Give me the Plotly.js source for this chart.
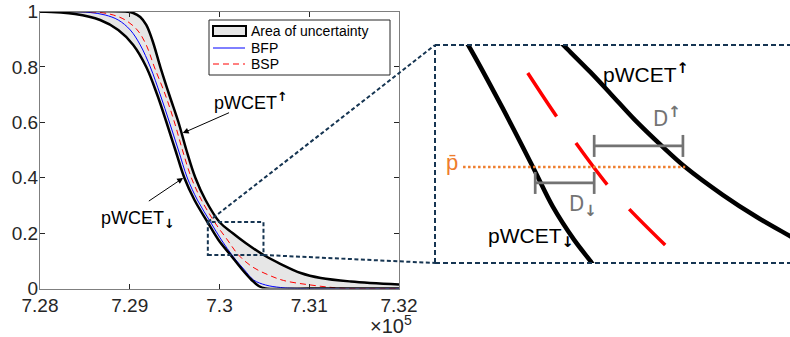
<!DOCTYPE html>
<html><head><meta charset="utf-8">
<script src="https://cdn.plot.ly/plotly-3.0.1.min.js"></script>
<style>html,body{margin:0;padding:0;background:#fff}#chart{width:790px;height:337px}</style>
</head><body><div id="chart"></div>
<script>
// ---------- data (x in units of 10^5) ----------
const xTicks = [7.28, 7.29, 7.30, 7.31, 7.32];
const xTickText = ['7.28', '7.29', '7.3', '7.31', '7.32'];
const yTicks = [0, 0.2, 0.4, 0.6, 0.8, 1];
const yTickText = ['0', '0.2', '0.4', '0.6', '0.8', '1'];

// upper bound pWCET↑
const xUpper = [7.28, 7.2895, 7.29039, 7.29117, 7.29184, 7.29251, 7.29341, 7.29441, 7.29542, 7.29631, 7.29732, 7.29844, 7.30000, 7.30145, 7.30291, 7.30492, 7.30682, 7.30905, 7.31128, 7.31464, 7.32];
const yUpper = [1, 1, 0.9946, 0.9801, 0.9513, 0.8971, 0.7996, 0.6986, 0.6011, 0.5000, 0.3989, 0.3195, 0.2401, 0.2004, 0.1643, 0.1209, 0.0884, 0.0560, 0.0379, 0.0253, 0.0144];
// lower bound pWCET↓
const xLower = [7.28, 7.28391, 7.28670, 7.28872, 7.29039, 7.29184, 7.29307, 7.29408, 7.29508, 7.29609, 7.29721, 7.29866, 7.29989, 7.30123, 7.30257, 7.30358, 7.30436, 7.30514, 7.31, 7.32];
const yLower = [1, 0.9910, 0.9693, 0.9332, 0.8791, 0.7996, 0.6986, 0.6011, 0.5000, 0.3989, 0.3195, 0.2401, 0.1751, 0.1209, 0.0668, 0.0307, 0.0090, 0, 0, 0];
// BFP
const xBFP = [7.28, 7.28335, 7.28559, 7.28726, 7.28872, 7.29006, 7.29117, 7.29229, 7.29341, 7.29441, 7.29542, 7.29642, 7.29754, 7.29899, 7.30022, 7.30156, 7.30279, 7.30380, 7.30514, 7.30682, 7.30905, 7.32];
const yBFP = [1, 1, 0.9964, 0.9874, 0.9693, 0.9332, 0.8791, 0.7996, 0.6986, 0.6011, 0.5000, 0.3989, 0.3195, 0.2401, 0.1751, 0.1137, 0.0668, 0.0307, 0.0126, 0.0036, 0, 0];
// BSP
const xBSP = [7.28, 7.28447, 7.28670, 7.28816, 7.28950, 7.29084, 7.29184, 7.29274, 7.29397, 7.29497, 7.29587, 7.29687, 7.29799, 7.29944, 7.30089, 7.30212, 7.30369, 7.30547, 7.30715, 7.31017, 7.31385, 7.32];
const yBSP = [1, 1, 0.9964, 0.9874, 0.9693, 0.9332, 0.8791, 0.7996, 0.6986, 0.6011, 0.5000, 0.3989, 0.3195, 0.2401, 0.1751, 0.1209, 0.0776, 0.0487, 0.0289, 0.0126, 0.0007, 0];

// zoomed region
const zoomX = [7.2987, 7.3049];
const zoomY = [0.121, 0.240];

// inset (schematic, zoomed coordinates)
const xLowerZoom = [7.29914, 7.29928, 7.29987, 7.30041, 7.30076, 7.30113, 7.30144, 7.30155];
const yLowerZoom = [0.2471, 0.2400, 0.2062, 0.1734, 0.1516, 0.1336, 0.1210, 0.1161];
const xUpperZoom = [7.30080, 7.30094, 7.30141, 7.30177, 7.30219, 7.30266, 7.30307, 7.30373, 7.30432, 7.30490, 7.30508];
const yUpperZoom = [0.2444, 0.2400, 0.2253, 0.2133, 0.1991, 0.1849, 0.1734, 0.1581, 0.1461, 0.1357, 0.1325];
const xBSPZoom = [7.30032, 7.30083, 7.30116, 7.30170, 7.30209, 7.30272];
const yBSPZoom = [0.2247, 0.2007, 0.1865, 0.1641, 0.1505, 0.1308];
const pBar = 0.1734;
const xPBar = [7.29919, 7.30307];
const xDDown = [7.30045, 7.30148];
const yDDown = 0.1647;
const xDUp = [7.30148, 7.30303];
const yDUp = 0.1849;

// ---------- layout helpers ----------
const W = 790, H = 337;
const FONT = 'Liberation Sans, Arial, Helvetica, sans-serif';
const mainBox = {l: 40, r: 399, t: 11.5, b: 288.5};
const insetBox = {l: 435, r: 790, t: 45, b: 263};
const xDom = [mainBox.l / W, mainBox.r / W], yDom = [1 - mainBox.b / H, 1 - mainBox.t / H];
const xDom2 = [insetBox.l / W, insetBox.r / W], yDom2 = [1 - insetBox.b / H, 1 - insetBox.t / H];
const xRange = [xTicks[0], xTicks[xTicks.length - 1]], yRange = [0, 1];
function d2p(x, y) {
  return {x: xDom[0] + (x - xRange[0]) / (xRange[1] - xRange[0]) * (xDom[1] - xDom[0]),
          y: yDom[0] + (y - yRange[0]) / (yRange[1] - yRange[0]) * (yDom[1] - yDom[0])};
}
function P(px, py) { return {x: px / W, y: 1 - py / H}; }
const NAVY = '#163552';
const GRAY = '#737373';
const ORANGE = '#EE7D2D';

const traces = [
  {x: xUpper, y: yUpper, mode: 'lines', line: {width: 0, shape: 'spline', color: 'rgba(0,0,0,0)'}, hoverinfo: 'skip', showlegend: false},
  {x: xLower, y: yLower, mode: 'lines', fill: 'tonexty', fillcolor: '#e6e6e6', line: {width: 0, shape: 'spline', color: 'rgba(0,0,0,0)'}, name: 'Area of uncertainty', showlegend: false},
  {x: xBFP, y: yBFP, mode: 'lines', line: {color: '#0000ff', width: 1, shape: 'spline'}, name: 'BFP', showlegend: false},
  {x: xBSP, y: yBSP, mode: 'lines', line: {color: '#ff0000', width: 1, shape: 'spline', dash: '6px,4px'}, name: 'BSP', showlegend: false},
  {x: xUpper, y: yUpper, mode: 'lines', line: {color: '#000', width: 2.5, shape: 'spline'}, showlegend: false},
  {x: xLower, y: yLower, mode: 'lines', line: {color: '#000', width: 2.5, shape: 'spline'}, showlegend: false},
  // inset
  {x: xLowerZoom, y: yLowerZoom, xaxis: 'x2', yaxis: 'y2', mode: 'lines', line: {color: '#000', width: 4.5, shape: 'spline'}, showlegend: false},
  {x: xUpperZoom, y: yUpperZoom, xaxis: 'x2', yaxis: 'y2', mode: 'lines', line: {color: '#000', width: 4.5, shape: 'spline'}, showlegend: false},
  {x: xBSPZoom, y: yBSPZoom, xaxis: 'x2', yaxis: 'y2', mode: 'lines', line: {color: '#ff0000', width: 3.5, shape: 'spline', dash: '52px,33px'}, showlegend: false},
  {x: xPBar, y: [pBar, pBar], xaxis: 'x2', yaxis: 'y2', mode: 'lines', line: {color: ORANGE, width: 2.5, dash: '2.5px,2.5px'}, showlegend: false}
];

const capH = 0.006;
function dBar(xs, y) {
  return [
    {type: 'line', xref: 'x2', yref: 'y2', x0: xs[0], x1: xs[1], y0: y, y1: y, line: {color: GRAY, width: 2.7}},
    {type: 'line', xref: 'x2', yref: 'y2', x0: xs[0], x1: xs[0], y0: y - capH, y1: y + capH, line: {color: GRAY, width: 2.7}},
    {type: 'line', xref: 'x2', yref: 'y2', x0: xs[1], x1: xs[1], y0: y - capH, y1: y + capH, line: {color: GRAY, width: 2.7}}
  ];
}

const cTL = d2p(zoomX[0], zoomY[1]);
const cBR = d2p(zoomX[1], zoomY[0]);
const dashNavy = {color: NAVY, width: 2, dash: '4px,2.5px'};
const dashInset = {color: NAVY, width: 2, dash: '5px,3px'};

// legend box
const lg = {l: 209, t: 20, r: 390, b: 75};
const p1 = P(lg.l, lg.t), p2 = P(lg.r, lg.b);
const a1 = P(213, 26), a2 = P(246, 36);
const b1 = P(213, 48), b2 = P(245, 48);
const r1 = P(213, 64), r2 = P(245, 64);

const shapes = [
  {type: 'rect', xref: 'x', yref: 'y', x0: zoomX[0], x1: zoomX[1], y0: zoomY[0], y1: zoomY[1], line: dashNavy},
  {type: 'line', xref: 'paper', yref: 'paper', x0: cTL.x, y0: cTL.y, x1: xDom2[0], y1: yDom2[1], line: dashNavy},
  {type: 'line', xref: 'paper', yref: 'paper', x0: cBR.x, y0: cBR.y, x1: xDom2[0], y1: yDom2[0], line: dashNavy},
  {type: 'line', xref: 'paper', yref: 'paper', x0: xDom2[0], y0: yDom2[1], x1: xDom2[1], y1: yDom2[1], line: dashInset},
  {type: 'line', xref: 'paper', yref: 'paper', x0: xDom2[0], y0: yDom2[0], x1: xDom2[1], y1: yDom2[0], line: dashInset},
  {type: 'line', xref: 'paper', yref: 'paper', x0: xDom2[0], y0: yDom2[0], x1: xDom2[0], y1: yDom2[1], line: dashInset},
  {type: 'rect', xref: 'paper', yref: 'paper', x0: p1.x, y0: p2.y, x1: p2.x, y1: p1.y, fillcolor: '#fff', line: {color: '#262626', width: 1}},
  {type: 'rect', xref: 'paper', yref: 'paper', x0: a1.x, y0: a2.y, x1: a2.x, y1: a1.y, fillcolor: '#e6e6e6', line: {color: '#000', width: 2}},
  {type: 'line', xref: 'paper', yref: 'paper', x0: b1.x, y0: b1.y, x1: b2.x, y1: b2.y, line: {color: '#0000ff', width: 1}},
  {type: 'line', xref: 'paper', yref: 'paper', x0: r1.x, y0: r1.y, x1: r2.x, y1: r2.y, line: {color: '#ff0000', width: 1, dash: '6px,4px'}}
].concat(dBar(xDDown, yDDown), dBar(xDUp, yDUp));

function txt(text, px, py, size, color, xanchor, family) {
  const p = P(px, py);
  return {xref: 'paper', yref: 'paper', x: p.x, y: p.y, text: text, showarrow: false,
          xanchor: xanchor || 'left', yanchor: 'middle', font: {family: family || FONT, size: size, color: color || '#000'}};
}
const NARROW = 'Liberation Sans Narrow, Arial Narrow, DejaVu Sans Condensed, sans-serif';
const UP = '<span style="font-family:DejaVu Sans;font-weight:bold">↑</span>';
const DOWN = '<span style="font-family:DejaVu Sans;font-weight:bold">↓</span>';
const annotations = [
  txt('Area of uncertainty', 249, 31, 14),
  txt('BFP', 249, 48, 14),
  txt('BSP', 249, 64, 14),
  txt('pWCET<sup>' + UP + '</sup>', 212, 101, 18),
  txt('pWCET<sub>' + DOWN + '</sub>', 99, 219, 18),
  txt('×10<sup>5</sup>', 368, 324, 20, '#262626'),
  txt('pWCET<sup>' + UP + '</sup>', 601, 72, 21),
  txt('pWCET<sub>' + DOWN + '</sub>', 486, 237, 21),
  txt('p\u0304', 444, 163, 22, ORANGE),
  txt('D<sup>' + UP + '</sup>', 651, 117, 22, GRAY, 'left', NARROW),
  txt('D<sub>' + DOWN + '</sub>', 567, 205, 22, GRAY, 'left', NARROW),
  {xref: 'x', yref: 'y', x: 7.2959, y: 0.561, axref: 'x', ayref: 'y', ax: 7.30123, ay: 0.637, text: '', showarrow: true, arrowhead: 2, arrowsize: 1.2, arrowwidth: 1, arrowcolor: '#000'},
  {xref: 'x', yref: 'y', x: 7.29595, y: 0.399, axref: 'x', ayref: 'y', ax: 7.29196, ay: 0.312, text: '', showarrow: true, arrowhead: 2, arrowsize: 1.2, arrowwidth: 1, arrowcolor: '#000'}
];

const axisCommon = {showgrid: false, zeroline: false, showline: true, linecolor: '#7f7f7f', linewidth: 1, mirror: 'ticks',
  ticks: 'inside', ticklen: 5, tickwidth: 1, tickcolor: '#262626', tickfont: {family: FONT, size: 19, color: '#262626'}, automargin: false};

const layout = {
  width: W, height: H, margin: {l: 0, r: 0, t: 0, b: 0}, paper_bgcolor: '#fff', plot_bgcolor: '#fff',
  showlegend: false,
  xaxis: Object.assign({}, axisCommon, {domain: xDom, range: xRange, tickvals: xTicks, ticktext: xTickText, ticklabelstandoff: 0}),
  yaxis: Object.assign({}, axisCommon, {domain: yDom, range: yRange, tickvals: yTicks, ticktext: yTickText, ticklabelstandoff: -3}),
  xaxis2: {domain: xDom2, range: zoomX, visible: false, anchor: 'y2'},
  yaxis2: {domain: yDom2, range: zoomY, visible: false, anchor: 'x2'},
  shapes: shapes,
  annotations: annotations
};

Plotly.newPlot('chart', traces, layout, {displayModeBar: false, staticPlot: true});
</script></body></html>
